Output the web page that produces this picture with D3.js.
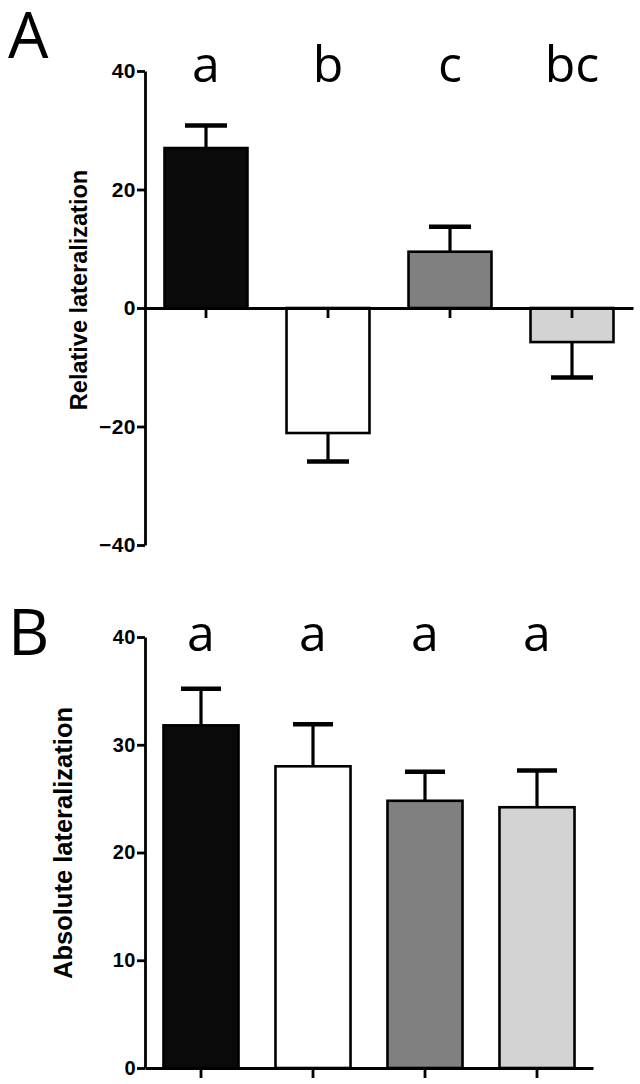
<!DOCTYPE html>
<html>
<head>
<meta charset="utf-8">
<script src="https://cdn.jsdelivr.net/npm/d3@7"></script>
<style>
  html, body { margin: 0; padding: 0; background: #fff; }
  svg { display: block; }
  .tick text { font-family: "Liberation Sans", Arial, sans-serif; font-weight: bold; fill: #000; }
</style>
</head>
<body>
<svg id="chart" width="640" height="1084"></svg>
<script>
// ---- data ----
const groups = ["G1", "G2", "G3", "G4"];
const colors = ["#0a0a0a", "#ffffff", "#808080", "#d3d3d3"];

const relativeValues = [27.0, -21.1, 9.5, -5.75];
const relativeErrors = [3.8, 4.8, 4.2, 6.0];
const relativeLetters = ["a", "b", "c", "bc"];
const relativeTicks = [-40, -20, 0, 20, 40];

const absoluteValues = [31.8, 28.0, 24.8, 24.2];
const absoluteErrors = [3.4, 3.9, 2.7, 3.4];
const absoluteLetters = ["a", "a", "a", "a"];
const absoluteTicks = [0, 10, 20, 30, 40];

const svg = d3.select("#chart");

function panel(opts) {
  const g = svg.append("g");
  const x = d3.scaleBand().domain(groups).range(opts.xRange)
    .paddingInner(opts.pad).paddingOuter(opts.pad / 2);
  const y = d3.scaleLinear().domain(opts.yDomain).range(opts.yRange);

  // bars
  g.selectAll("rect.bar").data(opts.values).enter().append("rect")
    .attr("class", "bar")
    .attr("x", (d, i) => x(groups[i]))
    .attr("width", x.bandwidth())
    .attr("y", d => y(Math.max(0, d)))
    .attr("height", d => Math.abs(y(d) - y(0)))
    .attr("fill", (d, i) => colors[i])
    .attr("stroke", "#000")
    .attr("stroke-width", 2.6);

  // error bars (one-sided)
  opts.values.forEach((v, i) => {
    const cx = x(groups[i]) + x.bandwidth() / 2;
    const sign = v >= 0 ? 1 : -1;
    const y1 = y(v), y2 = y(v + sign * opts.errors[i]);
    g.append("line").attr("x1", cx).attr("x2", cx).attr("y1", y1).attr("y2", y2)
      .attr("stroke", "#000").attr("stroke-width", 3.2);
    g.append("line").attr("x1", cx - opts.cap / 2).attr("x2", cx + opts.cap / 2)
      .attr("y1", y2).attr("y2", y2)
      .attr("stroke", "#000").attr("stroke-width", 4.5);
  });

  // x axis
  const xa = g.append("g").attr("transform", `translate(0,${y(0)})`)
    .call(d3.axisBottom(x).tickSize(10).tickSizeOuter(0).tickFormat(""));
  xa.selectAll("path, line").attr("stroke", "#000").attr("stroke-width", 2.8);

  // y axis
  const ya = g.append("g").attr("transform", `translate(${opts.xRange[0]},0)`)
    .call(d3.axisLeft(y).tickValues(opts.ticks).tickSize(8).tickSizeOuter(0).tickPadding(1));
  ya.selectAll("path, line").attr("stroke", "#000").attr("stroke-width", 2.8);
  ya.selectAll("text").attr("font-size", opts.tickFont).attr("letter-spacing", "0.5px");

  // letters
  g.selectAll("text.sig").data(opts.letters).enter().append("text")
    .attr("class", "sig")
    .attr("x", (d, i) => x(groups[i]) + x.bandwidth() / 2)
    .attr("y", opts.letterY)
    .attr("text-anchor", "middle")
    .attr("font-family", "'Open Sans', sans-serif")
    .attr("font-size", 50)
    .text(d => d);

  // y title
  g.append("text")
    .attr("transform", `translate(${opts.titleX},${opts.titleY}) rotate(-90)`)
    .attr("text-anchor", "middle")
    .attr("font-family", "'Liberation Sans', Arial, sans-serif")
    .attr("font-weight", "bold")
    .attr("font-size", opts.titleFont)
    .text(opts.title);

  // panel label
  g.append("text")
    .attr("x", 8).attr("y", opts.labelY)
    .attr("font-family", "'Open Sans', sans-serif")
    .attr("font-size", 64)
    .text(opts.label);
}

panel({
  values: relativeValues, errors: relativeErrors, letters: relativeLetters,
  ticks: relativeTicks, yDomain: [-40, 40], yRange: [545, 71],
  xRange: [145, 633], pad: 0.32, cap: 42, letterY: 82,
  title: "Relative lateralization", titleX: 87, titleY: 290, titleFont: 23.5,
  label: "A", labelY: 58, tickFont: 21
});

panel({
  values: absoluteValues, errors: absoluteErrors, letters: absoluteLetters,
  ticks: absoluteTicks, yDomain: [0, 40], yRange: [1068, 637],
  xRange: [145, 593], pad: 0.33, cap: 40, letterY: 651,
  title: "Absolute lateralization", titleX: 72, titleY: 843, titleFont: 25.5,
  label: "B", labelY: 655, tickFont: 20
});
</script>
</body>
</html>
